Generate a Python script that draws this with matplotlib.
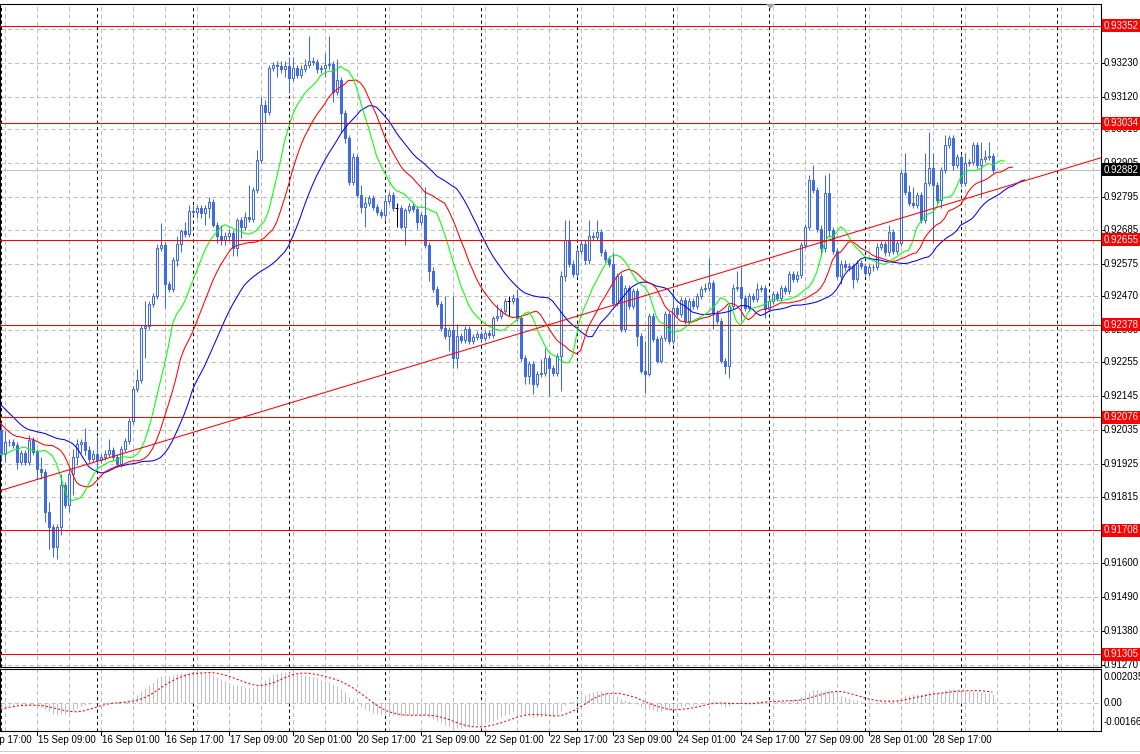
import matplotlib
matplotlib.use("Agg")
import matplotlib.pyplot as plt
import numpy as np
from matplotlib.patches import Rectangle, Polygon
from matplotlib.transforms import blended_transform_factory, offset_copy
from matplotlib.lines import Line2D

plt.rcParams['font.family'] = ['Liberation Sans', 'DejaVu Sans']

# ---------------- data (prices in points, 1 point = 0.00001) ----------------
POINT = 1e-5
first_open = 92036
close_pts = [
    91958, 91997, 91994, 91987, 91932, 91961, 91932, 92003, 91964, 91909,
    91899, 91768, 91719, 91653, 91719, 91856, 91791, 91892, 91948, 91990,
    91997, 91971, 91941, 91958, 91938, 91948, 91958, 91968, 91948, 91925,
    91974, 92000, 92063, 92167, 92197, 92367, 92374, 92446, 92472, 92629,
    92636, 92511, 92495, 92587, 92642, 92682, 92672, 92747, 92744, 92757,
    92740, 92757, 92776, 92701, 92665, 92655, 92665, 92675, 92626, 92718,
    92695, 92727, 92721, 92816, 92914, 93094, 93071, 93215, 93225, 93219,
    93209, 93219, 93182, 93215, 93192, 93212, 93225, 93238, 93232, 93209,
    93215, 93222, 93228, 93137, 93176, 93068, 92986, 92842, 92924, 92799,
    92760, 92773, 92790, 92760, 92744, 92734, 92780, 92800, 92757, 92757,
    92695, 92750, 92763, 92754, 92711, 92734, 92636, 92554, 92495, 92446,
    92367, 92341, 92361, 92269, 92341, 92328, 92364, 92325, 92338, 92347,
    92334, 92351, 92344, 92400, 92406, 92423, 92455, 92455, 92465, 92400,
    92269, 92210, 92249, 92184, 92216, 92220, 92269, 92236, 92220, 92275,
    92537, 92655, 92577, 92544, 92619, 92642, 92587, 92668, 92662, 92678,
    92613, 92593, 92577, 92449, 92537, 92364, 92498, 92439, 92488, 92341,
    92226, 92216, 92406, 92331, 92259, 92334, 92413, 92325, 92433, 92413,
    92459, 92390, 92455, 92439, 92472, 92495, 92498, 92514, 92416, 92390,
    92259, 92243, 92439, 92498, 92501, 92465, 92433, 92472, 92462, 92495,
    92498, 92429, 92455, 92478, 92465, 92498, 92488, 92544, 92528, 92541,
    92636, 92695, 92849, 92816, 92691, 92626, 92806, 92685, 92619, 92537,
    92577, 92564, 92570, 92528, 92580, 92570, 92547, 92564, 92567, 92632,
    92639, 92613, 92678, 92619, 92645, 92871, 92809, 92773, 92767, 92799,
    92718, 92839, 92888, 92832, 92783, 92881, 92963, 92986, 92898, 92924,
    92839, 92904, 92907, 92963, 92898, 92917, 92924, 92927, 92882]
high_pts = [
    92062, 92030, 92007, 92004, 91997, 91971, 91971, 92020, 92013, 91974,
    91948, 91909, 91801, 91729, 91729, 91892, 91866, 91909, 91974, 92004,
    92007, 92040, 91981, 91968, 92013, 91958, 91968, 92007, 91978, 91958,
    91981, 92010, 92073, 92177, 92233, 92377, 92456, 92456, 92482, 92639,
    92708, 92646, 92521, 92597, 92668, 92691, 92711, 92767, 92767, 92767,
    92767, 92767, 92793, 92786, 92711, 92701, 92678, 92691, 92685, 92724,
    92728, 92744, 92832, 92826, 92947, 93120, 93110, 93222, 93232, 93235,
    93235, 93235, 93248, 93248, 93225, 93222, 93242, 93317, 93248, 93242,
    93225, 93264, 93317, 93238, 93242, 93186, 93078, 92996, 92937, 92934,
    92832, 92793, 92800, 92800, 92770, 92754, 92800, 92810, 92810, 92773,
    92767, 92757, 92773, 92773, 92764, 92744, 92826, 92646, 92564, 92505,
    92456, 92472, 92371, 92472, 92380, 92351, 92374, 92374, 92348, 92357,
    92357, 92361, 92361, 92406, 92446, 92433, 92465, 92472, 92478, 92495,
    92410, 92279, 92259, 92259, 92226, 92266, 92302, 92279, 92246, 92285,
    92554, 92718, 92718, 92587, 92629, 92652, 92652, 92718, 92678, 92718,
    92688, 92623, 92603, 92613, 92547, 92547, 92508, 92508, 92498, 92498,
    92351, 92325, 92416, 92416, 92341, 92344, 92423, 92423, 92488, 92443,
    92469, 92469, 92465, 92465, 92482, 92505, 92515, 92596, 92524, 92426,
    92400, 92269, 92449, 92511, 92554, 92564, 92475, 92482, 92482, 92515,
    92508, 92508, 92465, 92488, 92488, 92508, 92508, 92554, 92554, 92551,
    92646, 92705, 92865, 92898, 92826, 92701, 92865, 92871, 92695, 92629,
    92587, 92587, 92580, 92580, 92590, 92590, 92580, 92574, 92577, 92645,
    92649, 92649, 92701, 92688, 92655, 92881, 92937, 92832, 92826, 92809,
    92809, 92937, 93006, 92937, 92842, 92891, 92996, 92996, 92996, 92934,
    92934, 92937, 92917, 92973, 92973, 92973, 92947, 92973, 92937]
low_pts = [
    91938, 91932, 91984, 91977, 91909, 91922, 91922, 91922, 91954, 91876,
    91876, 91735, 91647, 91620, 91614, 91692, 91781, 91768, 91824, 91922,
    91960, 91954, 91931, 91931, 91909, 91928, 91938, 91948, 91938, 91915,
    91915, 91964, 91990, 92053, 92157, 92187, 92269, 92364, 92436, 92462,
    92619, 92433, 92485, 92485, 92570, 92613, 92662, 92662, 92734, 92724,
    92724, 92701, 92724, 92695, 92645, 92636, 92636, 92655, 92603, 92603,
    92659, 92685, 92711, 92711, 92806, 92904, 93035, 93061, 93205, 93186,
    93199, 93183, 93133, 93172, 93182, 93182, 93202, 93215, 93222, 93199,
    93199, 93183, 93212, 93104, 93127, 93006, 92970, 92832, 92832, 92793,
    92740, 92695, 92763, 92750, 92734, 92724, 92718, 92770, 92747, 92695,
    92691, 92636, 92740, 92744, 92691, 92701, 92626, 92521, 92485, 92436,
    92357, 92331, 92292, 92236, 92236, 92318, 92318, 92315, 92315, 92328,
    92324, 92324, 92334, 92334, 92390, 92396, 92413, 92406, 92445, 92390,
    92259, 92184, 92184, 92151, 92174, 92206, 92210, 92144, 92210, 92210,
    92161, 92521, 92567, 92534, 92534, 92609, 92577, 92577, 92652, 92652,
    92603, 92583, 92567, 92439, 92439, 92354, 92354, 92429, 92429, 92308,
    92220, 92154, 92210, 92321, 92252, 92252, 92324, 92315, 92315, 92403,
    92403, 92380, 92380, 92429, 92429, 92462, 92485, 92488, 92364, 92380,
    92252, 92216, 92203, 92429, 92488, 92390, 92423, 92423, 92452, 92452,
    92485, 92400, 92419, 92445, 92455, 92455, 92478, 92478, 92518, 92518,
    92531, 92626, 92685, 92806, 92681, 92603, 92616, 92662, 92609, 92527,
    92511, 92554, 92554, 92498, 92518, 92560, 92537, 92537, 92554, 92557,
    92622, 92603, 92603, 92609, 92609, 92635, 92799, 92763, 92757, 92757,
    92708, 92708, 92829, 92645, 92773, 92757, 92871, 92953, 92881, 92888,
    92826, 92829, 92894, 92897, 92888, 92790, 92907, 92914, 92872]

# Alligator / MACD starting values read at the left edge of the chart
jaw_seed = [0.92118, 0.92105, 0.92092, 0.92079, 0.92066, 0.92053, 0.92043, 0.92036]
teeth_seed = [0.92056, 0.92043, 0.92030, 0.92020, 0.92014]
lips_seed = [0.91954, 0.91958, 0.91961]
ema12_seed, ema26_seed = 0.91995, 0.92005
macd_pre = [-0.0006, -0.00055, -0.0005, -0.00045, -0.0004, -0.0003, -0.0002, -0.0001]

level_prices = [0.93352, 0.93034, 0.92655, 0.92378, 0.92076, 0.91708, 0.91305]
current_price = 0.92882
trend_bars = [-0.125, 275.0]
trend_prices = [0.91837, 0.92921]

price_ticks = [0.93340, 0.93230, 0.93120, 0.93015, 0.92905, 0.92795, 0.92685,
               0.92575, 0.92470, 0.92360, 0.92255, 0.92145, 0.92035, 0.91925,
               0.91815, 0.91710, 0.91600, 0.91490, 0.91380, 0.91270]
time_tick_bars = [-7, 9, 25, 41, 57, 73, 89, 105, 121, 137, 153, 169, 185, 201, 217, 233]
time_tick_labels = ["14 Sep 17:00", "15 Sep 09:00", "16 Sep 01:00", "16 Sep 17:00",
                    "17 Sep 09:00", "20 Sep 01:00", "20 Sep 17:00", "21 Sep 09:00",
                    "22 Sep 01:00", "22 Sep 17:00", "23 Sep 09:00", "24 Sep 01:00",
                    "24 Sep 17:00", "27 Sep 09:00", "28 Sep 01:00", "28 Sep 17:00"]
day_start_bars = [0, 24, 48, 72, 96, 120, 144, 168, 192, 216, 240, 264]
osc_ticks = [0.002035, 0.0, -0.00166]
osc_tick_labels = ["0.002035", "0.00", "-0.00166"]

# ---------------- figure ----------------
W, H = 1140, 754
fig = plt.figure(figsize=(W / 100, H / 100), dpi=100)
fig.patch.set_facecolor('white')


def frac_rect(x0, y0, x1, y1):
    return [x0 / W, 1 - y1 / H, (x1 - x0) / W, (y1 - y0) / H]


MAIN_TOP, MAIN_BOT = 4, 667
SUB_TOP, SUB_BOT = 669, 731
RIGHT = 1100.5
ax = fig.add_axes(frac_rect(0, MAIN_TOP, RIGHT, MAIN_BOT))
axo = fig.add_axes(frac_rect(0, SUB_TOP, RIGHT, SUB_BOT))

XLIM = (-0.125, 275.0)
YLIM = (0.912628, 0.934222)
ax.set_xlim(*XLIM)
ax.set_ylim(*YLIM)
axo.set_xlim(*XLIM)
axo.set_ylim(osc_ticks[2], osc_ticks[0])
for a in (ax, axo):
    a.set_xticks([])
    a.set_yticks([])
    for s in a.spines.values():
        s.set_color('black')
        s.set_linewidth(0.8)

LW = 0.75
GRID = '#C0C0C0'
BLUE = '#4169E1'

# grid
vgrid = np.arange(1, 276, 8)
for a in (ax, axo):
    for b in vgrid:
        a.axvline(b, color=GRID, lw=LW, ls=(0, (4, 3)), zorder=1)
    for b in day_start_bars:
        a.axvline(b, color='black', lw=LW, ls=(0, (3, 3)), zorder=1.5)
for p in price_ticks:
    ax.axhline(p, color=GRID, lw=LW, ls=(0, (4, 3)), zorder=1)
axo.axhline(0, color=GRID, lw=LW, ls=(0, (4, 3)), zorder=1)

# candles
n = len(close_pts)
closes = np.array(close_pts) * POINT
highs = np.array(high_pts) * POINT
lows = np.array(low_pts) * POINT
opens = np.concatenate([[first_open * POINT], closes[:-1]])
bars = np.arange(n)
up = closes > opens
dn = closes < opens
dj = ~(up | dn)
ax.vlines(bars[~dj], lows[~dj], highs[~dj], color=BLUE, lw=LW, zorder=3)
ax.vlines(bars[dj], lows[dj], highs[dj], color='black', lw=LW, zorder=3)
ax.hlines(closes[dj], bars[dj] - 0.4, bars[dj] + 0.4, color='black', lw=LW, zorder=4)
ax.bar(bars[up], closes[up] - opens[up], bottom=opens[up], width=0.5,
       facecolor='white', edgecolor=BLUE, linewidth=LW, zorder=4)
ax.bar(bars[dn], closes[dn] - opens[dn], bottom=opens[dn], width=0.5,
       facecolor=BLUE, edgecolor=BLUE, linewidth=LW, zorder=4)

# Alligator (SMMA of median price, shifted forward)
median = (highs + lows) / 2


def smma(seed, period):
    vals = list(seed)
    s = seed[-1]
    for m in median:
        s = (s * (period - 1) + m) / period
        vals.append(s)
    return np.array(vals)


jaw = smma(jaw_seed, 13)
teeth = smma(teeth_seed, 8)
lips = smma(lips_seed, 5)
ax.plot(np.arange(len(jaw)), jaw, color='#0000FF', lw=LW, zorder=5)
ax.plot(np.arange(len(teeth)), teeth, color='#FF0000', lw=LW, zorder=5)
ax.plot(np.arange(len(lips)), lips, color='#00FF00', lw=LW, zorder=5)

# horizontal levels, current price, trend line
for p in level_prices:
    ax.axhline(p, color='#FF0000', lw=LW, zorder=6)
ax.axhline(current_price, color=GRID, lw=LW, zorder=2)
ax.plot(trend_bars, trend_prices, color='#FF0000', lw=LW, zorder=6)

# MACD
e12, e26 = ema12_seed, ema26_seed
macd = []
for c in closes:
    e12 += (2 / 13) * (c - e12)
    e26 += (2 / 27) * (c - e26)
    macd.append(e12 - e26)
full = np.array(macd_pre + macd)
signal = np.array([full[i:i + 9].mean() for i in range(n)])
axo.vlines(bars, 0, np.array(macd), color=GRID, lw=LW, zorder=3)
axo.plot(bars, signal, color='#FF0000', lw=LW, ls=(0, (2, 2)), zorder=4)

# right price scale
bt = blended_transform_factory(ax.transAxes, ax.transData)
txt_t = offset_copy(bt, fig=fig, x=3, y=0, units='dots')
for p in price_ticks:
    ax.text(1.0, p, f"{p:.5f}", transform=txt_t, ha='left', va='center',
            fontsize=7, color='black', clip_on=False, zorder=3)
    ax.add_line(Line2D([1.0, 1.0 + 3 / RIGHT], [p, p], transform=bt,
                       color='black', lw=LW, clip_on=False))
px_per_price = (MAIN_BOT - MAIN_TOP) / (YLIM[1] - YLIM[0])
hh = 6.5 / px_per_price


def price_box(p, color):
    ax.add_patch(Rectangle((1.0 + 1 / RIGHT, p - hh), 38.5 / RIGHT, 2 * hh,
                           transform=bt, facecolor=color, edgecolor='none',
                           clip_on=False, zorder=10))
    ax.text(1.0, p, f"{p:.5f}", transform=txt_t, ha='left', va='center',
            fontsize=7, color='white', clip_on=False, zorder=11)


for p in level_prices:
    price_box(p, '#FF0000')
price_box(current_price, 'black')

# oscillator scale
bto = blended_transform_factory(axo.transAxes, axo.transData)
offs = [-8, 0, 9]
for v, lab, o in zip(osc_ticks, osc_tick_labels, offs):
    t = offset_copy(bto, fig=fig, x=3, y=o, units='dots')
    axo.text(1.0, v, lab, transform=t, ha='left', va='center', fontsize=7,
             color='black', clip_on=False)

# time scale
btx = blended_transform_factory(axo.transData, axo.transAxes)
lab_y = -(740 - SUB_BOT) / (SUB_BOT - SUB_TOP)
for b, lab in zip(time_tick_bars, time_tick_labels):
    axo.text(b, lab_y, lab, transform=offset_copy(btx, fig=fig, x=1, y=0, units='dots'),
             ha='left', va='center', fontsize=7, color='black', clip_on=False)
    axo.add_line(Line2D([b, b], [0, -4 / (SUB_BOT - SUB_TOP)], transform=btx,
                        color='black', lw=LW, clip_on=False))

# chart shift marker and bottom line
fig.add_artist(Polygon([[766 / W, 1 - 4 / H], [775 / W, 1 - 4 / H], [770.5 / W, 1 - 9 / H]],
                       closed=True, transform=fig.transFigure, facecolor='#A0A0A0',
                       edgecolor='none'))
fig.add_artist(Line2D([0, 1], [1 - 751 / H, 1 - 751 / H], transform=fig.transFigure,
                      color='#D0D0D0', lw=LW))

fig.savefig('out.png', dpi=100)
